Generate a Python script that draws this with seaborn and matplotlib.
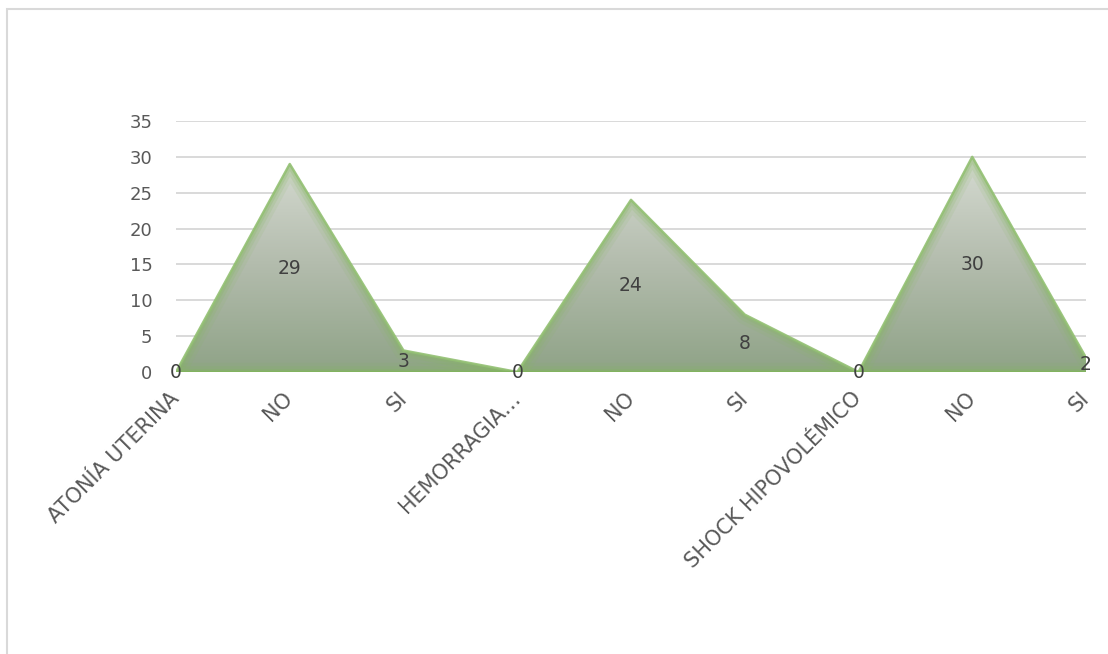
import numpy as np
import matplotlib
matplotlib.use("Agg")
import matplotlib.pyplot as plt
from matplotlib.colors import LinearSegmentedColormap
from matplotlib.patches import Rectangle
import seaborn as sns
import pandas as pd

categories = ["ATONÍA UTERINA", "NO", "SI", "HEMORRAGIA…", "NO", "SI",
              "SHOCK HIPOVOLÉMICO", "NO", "SI"]
values = [0, 29, 3, 0, 24, 8, 0, 30, 2]
yticks = [0, 5, 10, 15, 20, 25, 30, 35]

sns.set_theme(style="white")
plt.rcParams['font.family'] = ['DejaVu Sans']

W, H = 1108, 654
fig = plt.figure(figsize=(W / 100, H / 100), dpi=100)
fig.patch.set_facecolor("white")
ax = fig.add_axes([176 / W, 1 - 372 / H, (1086 - 176) / W, (372 - 121) / H])

x = np.arange(len(values))
df = pd.DataFrame({"pos": x, "val": values})

# gridlines
for yv in yticks[1:]:
    ax.axhline(yv, color="#d9d9d9", lw=1.4, zorder=0)

# gradient filled area
poly = ax.fill_between(df["pos"], df["val"], color="none", lw=0, zorder=1)
clip_path = poly.get_paths()[0]
cmap = LinearSegmentedColormap.from_list("g", ["#8fa387", "#b3bcad", "#d6dbd2"])
grad = np.linspace(0, 1, 256).reshape(-1, 1)
im = ax.imshow(grad, extent=[0, 8, 0, 30], origin="lower", aspect="auto",
               cmap=cmap, zorder=2, interpolation="bilinear")
im.set_clip_path(clip_path, transform=ax.transData)

# soft green inner glow along the edge
for lw, a in [(14, 0.12), (9, 0.18), (5, 0.25)]:
    sns.lineplot(data=df, x="pos", y="val", ax=ax, color="#86b862", lw=lw,
                 alpha=a, zorder=3, sort=False)
    ln = ax.lines[-1]
    ln.set_clip_path(clip_path, transform=ax.transData)
    bl = ax.axhline(0, color="#86b862", lw=lw, alpha=a, zorder=3)
    bl.set_clip_path(clip_path, transform=ax.transData)
sns.lineplot(data=df, x="pos", y="val", ax=ax, color="#93c073", lw=1.8,
             alpha=0.9, zorder=4, sort=False)
ax.axhline(0, color="#82b35f", lw=2.5, zorder=4)

# data labels centered at half height
for xi, v in zip(x, values):
    ax.text(xi, v / 2, str(v), ha="center", va="center", fontsize=13.5,
            color="#404040", zorder=6)

ax.set_xlim(0, 8)
ax.set_ylim(0, 35)
ax.set_yticks(yticks)
ax.set_yticklabels([str(t) for t in yticks], fontsize=13, color="#595959")
ax.set_xticks(x)
ax.set_xticklabels(categories, rotation=45, ha="right", va="center",
                   rotation_mode="anchor", fontsize=15, color="#595959")
ax.tick_params(axis="y", length=0, pad=17)
ax.tick_params(axis="x", length=0, pad=17)
ax.set_xlabel("")
ax.set_ylabel("")
for s in ax.spines.values():
    s.set_visible(False)

# outer chart border
fig.patches.append(Rectangle((7 / W, -0.05), (W + 20) / W, 1.05 - 9 / H,
                             transform=fig.transFigure, fill=False,
                             edgecolor="#d9d9d9", lw=1.5, zorder=0))

fig.savefig("out.png", dpi=100, facecolor="white")
